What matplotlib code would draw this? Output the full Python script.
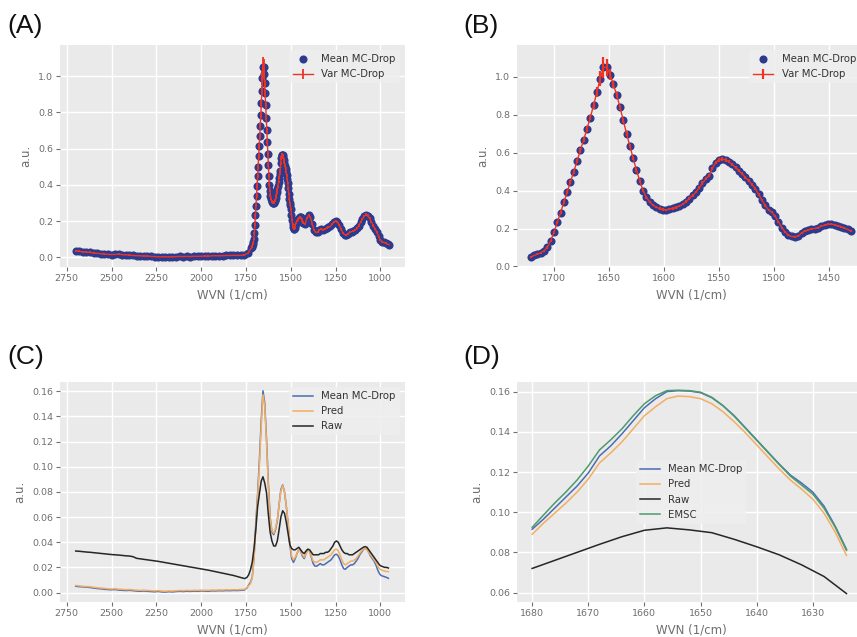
import numpy as np
import matplotlib
matplotlib.use("Agg")
import matplotlib.pyplot as plt
from matplotlib.ticker import MultipleLocator

# ---------------- data: panels A/B (MC-Dropout mean and variance) ----------------
wvn_ab_low = np.arange(2700, 1739, -20)      # 2700 ... 1740
wvn_ab_mid = np.arange(1721, 1429, -3)       # 1721 ... 1430
wvn_ab_high = np.arange(1420, 949, -10)      # 1420 ... 950

mean_ab_low = [0.035, 0.033, 0.030, 0.028, 0.027, 0.024, 0.022, 0.020, 0.018, 0.016,
               0.015, 0.016, 0.017, 0.015, 0.013, 0.012, 0.010, 0.009, 0.008, 0.007,
               0.007, 0.005, 0.004, 0.003, 0.002, 0.003, 0.002, 0.002, 0.004, 0.005,
               0.004, 0.005, 0.004, 0.006, 0.005, 0.006, 0.007, 0.006, 0.008, 0.009,
               0.008, 0.009, 0.010, 0.010, 0.011, 0.010, 0.011, 0.013, 0.022]
mean_ab_mid = [0.050, 0.058, 0.065, 0.072, 0.082, 0.100, 0.135, 0.180, 0.232, 0.284,
               0.338, 0.392, 0.446, 0.500, 0.556, 0.612, 0.668, 0.725, 0.785, 0.850,
               0.920, 0.990, 1.050, 1.050, 1.012, 0.960, 0.905, 0.840, 0.770, 0.700,
               0.635, 0.570, 0.508, 0.450, 0.400, 0.365, 0.340, 0.323, 0.312, 0.305,
               0.300, 0.298, 0.302, 0.306, 0.311, 0.318, 0.328, 0.342, 0.358, 0.375,
               0.392, 0.415, 0.440, 0.462, 0.478, 0.518, 0.548, 0.562, 0.566, 0.562,
               0.552, 0.538, 0.522, 0.505, 0.488, 0.470, 0.452, 0.432, 0.410, 0.380,
               0.350, 0.322, 0.298, 0.286, 0.265, 0.236, 0.205, 0.182, 0.165, 0.158,
               0.157, 0.160, 0.176, 0.186, 0.192, 0.198, 0.200, 0.205, 0.212, 0.218,
               0.222, 0.223, 0.220, 0.215, 0.210, 0.202, 0.195, 0.188]
mean_ab_high = [0.185, 0.215, 0.232, 0.220, 0.185, 0.150, 0.138, 0.140, 0.150, 0.158,
                0.152, 0.155, 0.162, 0.165, 0.170, 0.182, 0.195, 0.200, 0.196, 0.180,
                0.158, 0.135, 0.125, 0.122, 0.130, 0.140, 0.142, 0.145, 0.150, 0.160,
                0.175, 0.195, 0.212, 0.228, 0.235, 0.230, 0.215, 0.195, 0.175, 0.158,
                0.140, 0.115, 0.095, 0.085, 0.082, 0.078, 0.072, 0.070]

var_ab_low = [0.004, 0.005, 0.004, 0.004, 0.005, 0.004, 0.004, 0.003, 0.004, 0.004,
              0.003, 0.004, 0.004, 0.003, 0.003, 0.004, 0.003, 0.003, 0.003, 0.004,
              0.003, 0.003, 0.003, 0.004, 0.003, 0.003, 0.003, 0.003, 0.004, 0.003,
              0.003, 0.003, 0.004, 0.003, 0.003, 0.003, 0.003, 0.004, 0.003, 0.003,
              0.003, 0.003, 0.003, 0.004, 0.003, 0.003, 0.003, 0.004, 0.004]
var_ab_mid = [0.004, 0.004, 0.004, 0.005, 0.005, 0.006, 0.007, 0.008,
              0.008, 0.009, 0.010, 0.010, 0.011, 0.011, 0.012, 0.012, 0.013, 0.014, 0.015, 0.018,
              0.025, 0.040, 0.055, 0.045, 0.030, 0.020, 0.016, 0.014, 0.013, 0.012,
              0.011, 0.010, 0.010, 0.009, 0.008, 0.007, 0.007, 0.006, 0.006, 0.006,
              0.006, 0.006, 0.006, 0.006, 0.006, 0.006, 0.006, 0.007, 0.007, 0.007,
              0.007, 0.007, 0.008, 0.008, 0.008, 0.009, 0.009, 0.009, 0.009, 0.009,
              0.009, 0.008, 0.008, 0.008, 0.008, 0.007, 0.007, 0.007, 0.007, 0.007,
              0.006, 0.006, 0.006, 0.005, 0.005, 0.005, 0.005, 0.005, 0.005, 0.005,
              0.005, 0.005, 0.005, 0.005, 0.005, 0.005, 0.005, 0.005, 0.005, 0.005,
              0.005, 0.005, 0.005, 0.005, 0.005, 0.005, 0.005, 0.005]
var_ab_high = [0.005, 0.005, 0.006, 0.005, 0.005, 0.005, 0.004, 0.004, 0.005, 0.005,
               0.005, 0.005, 0.005, 0.005, 0.005, 0.006, 0.006, 0.006, 0.006, 0.005,
               0.005, 0.005, 0.004, 0.004, 0.005, 0.005, 0.005, 0.005, 0.005, 0.005,
               0.006, 0.006, 0.006, 0.007, 0.007, 0.007, 0.006, 0.006, 0.006, 0.005,
               0.005, 0.005, 0.004, 0.004, 0.004, 0.004, 0.004, 0.004]

# ---------------- data: panel C (full spectra) ----------------
wvn_c_low = np.arange(2700, 1759, -20)       # 2700 ... 1760
wvn_c_mid = np.arange(1755, 954, -10)        # 1755 ... 955

mcd_c_low = [0.0050, 0.0047, 0.0045, 0.0043, 0.0040, 0.0036, 0.0032, 0.0030, 0.0026, 0.0024,
             0.0022, 0.0024, 0.0020, 0.0018, 0.0016, 0.0018, 0.0015, 0.0012, 0.0010, 0.0013,
             0.0010, 0.0008, 0.0006, 0.0009, 0.0005, 0.0004, 0.0007, 0.0005, 0.0008, 0.0010,
             0.0008, 0.0011, 0.0009, 0.0012, 0.0010, 0.0013, 0.0012, 0.0010, 0.0014, 0.0013,
             0.0015, 0.0014, 0.0016, 0.0015, 0.0017, 0.0016, 0.0018, 0.0020]
pred_c_low = [0.0056, 0.0053, 0.0050, 0.0048, 0.0046, 0.0042, 0.0038, 0.0036, 0.0033, 0.0030,
              0.0028, 0.0030, 0.0027, 0.0025, 0.0023, 0.0024, 0.0021, 0.0019, 0.0017, 0.0019,
              0.0017, 0.0015, 0.0013, 0.0015, 0.0012, 0.0011, 0.0013, 0.0012, 0.0014, 0.0016,
              0.0015, 0.0017, 0.0016, 0.0018, 0.0017, 0.0019, 0.0018, 0.0017, 0.0020, 0.0019,
              0.0021, 0.0020, 0.0022, 0.0021, 0.0023, 0.0022, 0.0024, 0.0026]
raw_c_low = [0.0330, 0.0328, 0.0325, 0.0322, 0.0320, 0.0317, 0.0314, 0.0311, 0.0308, 0.0305,
             0.0302, 0.0300, 0.0298, 0.0295, 0.0292, 0.0290, 0.0285, 0.0272, 0.0268, 0.0264,
             0.0260, 0.0256, 0.0252, 0.0248, 0.0243, 0.0238, 0.0233, 0.0228, 0.0223, 0.0218,
             0.0213, 0.0208, 0.0203, 0.0198, 0.0193, 0.0188, 0.0183, 0.0178, 0.0172, 0.0166,
             0.0160, 0.0154, 0.0148, 0.0142, 0.0136, 0.0128, 0.0120, 0.0112]

mcd_c_mid = [0.0025, 0.0035, 0.0060, 0.0080, 0.0120, 0.0280, 0.0550, 0.0780, 0.1050, 0.1360,
             0.1603, 0.1505, 0.1212, 0.0870, 0.0600, 0.0480, 0.0460, 0.0500, 0.0570, 0.0700,
             0.0820, 0.0855, 0.0800, 0.0690, 0.0550, 0.0380, 0.0270, 0.0240, 0.0270, 0.0310,
             0.0340, 0.0330, 0.0290, 0.0270, 0.0310, 0.0340, 0.0330, 0.0280, 0.0230, 0.0210,
             0.0210, 0.0220, 0.0230, 0.0220, 0.0220, 0.0230, 0.0240, 0.0250, 0.0260, 0.0280,
             0.0300, 0.0305, 0.0290, 0.0260, 0.0220, 0.0190, 0.0185, 0.0200, 0.0210, 0.0220,
             0.0220, 0.0230, 0.0250, 0.0270, 0.0300, 0.0320, 0.0340, 0.0350, 0.0345, 0.0320,
             0.0290, 0.0270, 0.0250, 0.0220, 0.0180, 0.0150, 0.0135, 0.0130, 0.0125, 0.0120,
             0.0113]
pred_c_mid = [0.0028, 0.0038, 0.0055, 0.0070, 0.0115, 0.0260, 0.0520, 0.0750, 0.1005, 0.1310,
              0.1572, 0.1480, 0.1190, 0.0840, 0.0590, 0.0490, 0.0470, 0.0510, 0.0580, 0.0700,
              0.0810, 0.0850, 0.0800, 0.0690, 0.0560, 0.0400, 0.0290, 0.0260, 0.0280, 0.0310,
              0.0340, 0.0330, 0.0300, 0.0280, 0.0310, 0.0340, 0.0330, 0.0290, 0.0250, 0.0240,
              0.0240, 0.0250, 0.0260, 0.0260, 0.0260, 0.0270, 0.0280, 0.0290, 0.0300, 0.0320,
              0.0340, 0.0345, 0.0330, 0.0300, 0.0260, 0.0230, 0.0220, 0.0230, 0.0240, 0.0250,
              0.0250, 0.0260, 0.0270, 0.0290, 0.0310, 0.0330, 0.0340, 0.0350, 0.0345, 0.0320,
              0.0300, 0.0280, 0.0260, 0.0240, 0.0210, 0.0190, 0.0180, 0.0175, 0.0170, 0.0168,
              0.0166]
raw_c_mid = [0.0112, 0.0120, 0.0140, 0.0180, 0.0240, 0.0350, 0.0500, 0.0680, 0.0780, 0.0885,
             0.0920, 0.0870, 0.0790, 0.0620, 0.0480, 0.0410, 0.0370, 0.0370, 0.0410, 0.0500,
             0.0600, 0.0650, 0.0630, 0.0560, 0.0470, 0.0380, 0.0350, 0.0340, 0.0340, 0.0350,
             0.0360, 0.0340, 0.0320, 0.0310, 0.0330, 0.0345, 0.0340, 0.0320, 0.0300, 0.0300,
             0.0300, 0.0300, 0.0310, 0.0310, 0.0310, 0.0320, 0.0320, 0.0330, 0.0350, 0.0370,
             0.0400, 0.0410, 0.0400, 0.0370, 0.0340, 0.0320, 0.0310, 0.0310, 0.0300, 0.0300,
             0.0300, 0.0310, 0.0320, 0.0330, 0.0340, 0.0350, 0.0360, 0.0365, 0.0360, 0.0340,
             0.0320, 0.0300, 0.0280, 0.0260, 0.0240, 0.0220, 0.0210, 0.0205, 0.0200, 0.0200,
             0.0195]

# ---------------- data: panel D (zoom on amide I) ----------------
wvn_d = np.arange(1680, 1623, -2)            # 1680 ... 1624
wvn_d_raw = np.arange(1680, 1623, -4)        # 1680 ... 1624

mcd_d = [0.0915, 0.0965, 0.1020, 0.1075, 0.1130, 0.1195, 0.1280, 0.1330, 0.1390, 0.1455,
         0.1520, 0.1565, 0.1600, 0.1605, 0.1603, 0.1595, 0.1570, 0.1530, 0.1480, 0.1420,
         0.1360, 0.1300, 0.1240, 0.1185, 0.1145, 0.1100, 0.1030, 0.0930, 0.0815]
pred_d = [0.0890, 0.0945, 0.0995, 0.1045, 0.1100, 0.1165, 0.1245, 0.1295, 0.1350, 0.1415,
          0.1480, 0.1525, 0.1565, 0.1578, 0.1575, 0.1565, 0.1540, 0.1500, 0.1450, 0.1395,
          0.1335, 0.1275, 0.1215, 0.1160, 0.1115, 0.1065, 0.0995, 0.0900, 0.0785]
emsc_d = [0.0925, 0.0985, 0.1045, 0.1100, 0.1160, 0.1230, 0.1310, 0.1360, 0.1415, 0.1480,
          0.1540, 0.1580, 0.1605, 0.1607, 0.1605, 0.1597, 0.1572, 0.1530, 0.1478, 0.1418,
          0.1358, 0.1298, 0.1238, 0.1180, 0.1135, 0.1090, 0.1020, 0.0925, 0.0810]
raw_d = [0.0720, 0.0760, 0.0800, 0.0840, 0.0878, 0.0910, 0.0922, 0.0912, 0.0898, 0.0865,
         0.0828, 0.0788, 0.0738, 0.0680, 0.0595]

# ---------------- assemble ----------------
wvn_ab = np.concatenate([wvn_ab_low, wvn_ab_mid, wvn_ab_high])
mean_ab = np.concatenate([mean_ab_low, mean_ab_mid, mean_ab_high])
var_ab = np.concatenate([var_ab_low, var_ab_mid, var_ab_high])
wvn_c = np.concatenate([wvn_c_low, wvn_c_mid])
mcd_c = np.concatenate([mcd_c_low, mcd_c_mid])
pred_c = np.concatenate([pred_c_low, pred_c_mid])
raw_c = np.concatenate([raw_c_low, raw_c_mid])

# ---------------- style ----------------
BG = '#EAEAEA'
TXT = '#6e6e6e'
C_MEAN = '#2c3b8e'
C_VAR = '#ee3322'
C_BLUE = '#4a6db3'
C_ORANGE = '#f2ae62'
C_RAW = '#262626'
C_GREEN = '#4f9a6b'

W, H = 857, 637
fig = plt.figure(figsize=(W / 100, H / 100), dpi=100)


def add_ax(left, top, right, bottom):
    ax = fig.add_axes([left / W, 1 - bottom / H, (right - left) / W, (bottom - top) / H])
    ax.set_facecolor(BG)
    for s in ax.spines.values():
        s.set_visible(False)
    ax.grid(True, color='white', linewidth=1.0)
    ax.set_axisbelow(True)
    ax.tick_params(colors=TXT, labelsize=6.8, length=3, width=0.8, pad=2)
    ax.set_xlabel('WVN (1/cm)', color=TXT, fontsize=8.5, labelpad=4)
    ax.set_ylabel('a.u.', color=TXT, fontsize=8.5, labelpad=4)
    return ax


axA = add_ax(60, 45, 405, 267)
axB = add_ax(517, 45, 865, 267)
axC = add_ax(60, 382, 405, 602)
axD = add_ax(517, 382, 865, 602)

leg_kw = dict(fontsize=7.3, facecolor='#EEEEEE', edgecolor='none', framealpha=0.85,
              labelcolor='#333333')

# Panel A: full spectrum
axA.scatter(wvn_ab, mean_ab, s=34, color=C_MEAN, linewidths=0, label='Mean MC-Drop', zorder=2)
axA.errorbar(wvn_ab, mean_ab, yerr=var_ab, color=C_VAR, ecolor=C_VAR, linewidth=1.0,
             elinewidth=1.3, capsize=0, label='Var MC-Drop', zorder=3)
axA.legend(loc='upper right', **leg_kw)
axA.set_xlim(2787.5, 862.5)
axA.set_ylim(-0.0535, 1.171)
axA.xaxis.set_major_locator(MultipleLocator(250))
axA.yaxis.set_major_locator(MultipleLocator(0.2))

# Panel B: amide region only
axB.scatter(wvn_ab_mid, mean_ab_mid, s=34, color=C_MEAN, linewidths=0, label='Mean MC-Drop', zorder=2)
axB.errorbar(wvn_ab_mid, mean_ab_mid, yerr=var_ab_mid, color=C_VAR, ecolor=C_VAR, linewidth=1.0,
             elinewidth=1.6, capsize=0, label='Var MC-Drop', zorder=3)
axB.legend(loc='upper right', **leg_kw)
axB.set_xlim(1733.6, 1417.3)
axB.set_ylim(-0.003, 1.168)
axB.xaxis.set_major_locator(MultipleLocator(50))
axB.yaxis.set_major_locator(MultipleLocator(0.2))

# Panel C
axC.plot(wvn_c, mcd_c, color=C_BLUE, linewidth=1.1, label='Mean MC-Drop')
axC.plot(wvn_c, pred_c, color=C_ORANGE, linewidth=1.1, label='Pred')
axC.plot(wvn_c, raw_c, color=C_RAW, linewidth=1.1, label='Raw')
axC.set_xlim(2787.5, 862.5)
axC.set_ylim(-0.0075, 0.1673)
axC.xaxis.set_major_locator(MultipleLocator(250))
axC.yaxis.set_major_locator(MultipleLocator(0.02))
axC.legend(loc='upper right', **leg_kw)

# Panel D
axD.plot(wvn_d, mcd_d, color=C_BLUE, linewidth=1.1, label='Mean MC-Drop')
axD.plot(wvn_d, pred_d, color=C_ORANGE, linewidth=1.1, label='Pred')
axD.plot(wvn_d_raw, raw_d, color=C_RAW, linewidth=1.1, label='Raw')
axD.plot(wvn_d, emsc_d, color=C_GREEN, linewidth=1.1, label='EMSC')
axD.set_xlim(1682.7, 1620.7)
axD.set_ylim(0.0553, 0.1648)
axD.xaxis.set_major_locator(MultipleLocator(10))
axD.yaxis.set_major_locator(MultipleLocator(0.02))
axD.legend(loc='center', **leg_kw)

# panel letters
for lbl, x, y in (('(A)', 7, 26), ('(B)', 463, 26), ('(C)', 7, 357), ('(D)', 463, 357)):
    fig.text(x / W, 1 - y / H, lbl, fontsize=19, family='Liberation Sans',
             ha='left', va='center', color='#111111')

fig.savefig('out.png', dpi=100)
